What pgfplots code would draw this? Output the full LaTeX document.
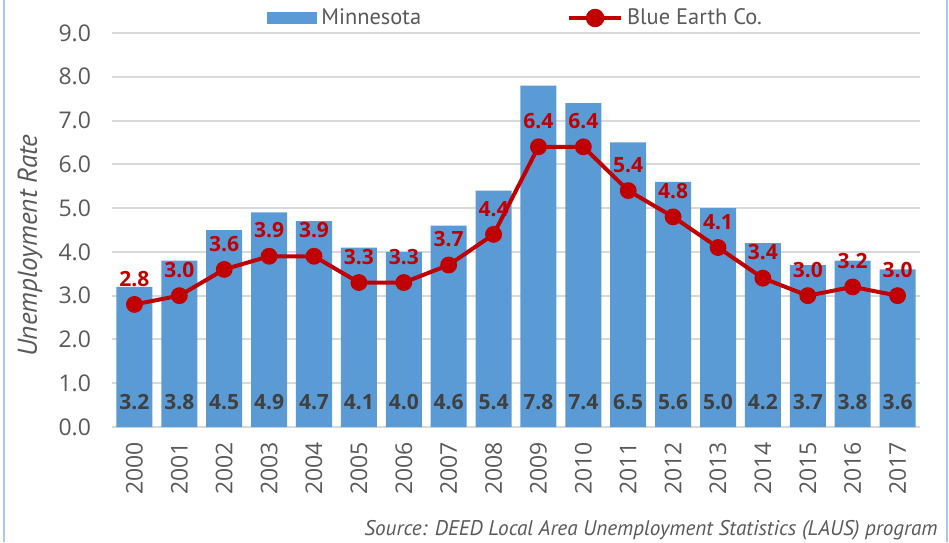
\documentclass[border=0pt]{standalone}
\usepackage{fontspec}
\setmainfont{Open Sans}
\newfontfamily\ptsans{PT Sans}
\usepackage{pgfplots}
\pgfplotsset{compat=1.18}
\usepackage{pgfplotstable}
\definecolor{barblue}{HTML}{5B9BD5}
\definecolor{linered}{HTML}{C00000}
\definecolor{txtgray}{HTML}{595959}
\definecolor{lblgray}{HTML}{404040}
\definecolor{gridgray}{HTML}{D9D9D9}
\definecolor{framec}{HTML}{A9C8EA}
\pgfplotstableread{
x year mn be
0 2000 3.2 2.8
1 2001 3.8 3.0
2 2002 4.5 3.6
3 2003 4.9 3.9
4 2004 4.7 3.9
5 2005 4.1 3.3
6 2006 4.0 3.3
7 2007 4.6 3.7
8 2008 5.4 4.4
9 2009 7.8 6.4
10 2010 7.4 6.4
11 2011 6.5 5.4
12 2012 5.6 4.8
13 2013 5.0 4.1
14 2014 4.2 3.4
15 2015 3.7 3.0
16 2016 3.8 3.2
17 2017 3.6 3.0
}\datatable
\begin{document}
\begin{tikzpicture}
\useasboundingbox (0,0) rectangle (474.5pt,271pt);
\draw[framec, line width=1pt] (1.8pt,0) -- (1.8pt,271pt);
\draw[framec, line width=1pt] (473.6pt,0) -- (473.6pt,271pt);
\begin{axis}[
  at={(56pt,57.5pt)}, anchor=south west,
  scale only axis, width=404pt, height=197pt,
  xmin=-0.5, xmax=17.5, ymin=0, ymax=9,
  ytick={0,1,...,9},
  xtick={0,1,...,17},
  xticklabels={2000,2001,2002,2003,2004,2005,2006,2007,2008,2009,2010,2011,2012,2013,2014,2015,2016,2017},
  xticklabel style={rotate=90, anchor=east, font=\fontsize{11.5}{13}\selectfont, text=txtgray, xshift=-4pt},
  yticklabel style={font=\fontsize{11.5}{13}\selectfont, text=txtgray, xshift=-7pt},
  /pgf/number format/assume math mode=true,
  yticklabel={\pgfmathprintnumber[fixed,fixed zerofill,precision=1]{\tick}},
  major tick length=0pt,
  axis line style={draw=none},
  ymajorgrids, grid style={gridgray, line width=1pt},
  ylabel={\textit{Unemployment Rate}},
  ylabel style={at={(axis description cs:-0.1015,0.46)}, anchor=center, font=\ptsans\fontsize{13.6}{15}\selectfont, text=txtgray},
  legend columns=2,
  legend style={draw=none, fill=none, at={(axis description cs:0.1918,1)}, anchor=west, yshift=7.5pt,
    font=\ptsans\fontsize{11.2}{13}\selectfont, text=txtgray,
    /tikz/every even column/.append style={column sep=71pt},
    /tikz/every odd column/.append style={column sep=0pt},
    cells={anchor=west}, inner sep=0pt},
  clip=false,
]
\addplot[ybar, bar width=18pt, fill=barblue, draw=none,
  legend image code/.code={\fill[barblue] (0pt,-3pt) rectangle (25pt,3pt);}]
  table[x=x, y=mn] {\datatable};
\addlegendentry{Minnesota}
\addplot[linered, line width=2pt, mark=*, mark size=3.2pt, mark options={fill=linered, draw=linered},
  legend image code/.code={\draw[linered, line width=2pt] (0pt,0pt) -- (26pt,0pt); \fill[linered] (13pt,0pt) circle (3.6pt);},
  nodes near coords={\pgfmathprintnumber[fixed,fixed zerofill,precision=1]{\pgfplotspointmeta}},
  point meta=explicit,
  every node near coord/.append style={font=\fontsize{10.5}{12}\bfseries, text=linered, anchor=south, inner sep=0pt, yshift=8pt}]
  table[x=x, y=be, meta=be] {\datatable};
\addlegendentry{Blue Earth Co.}
\addplot[forget plot, only marks, mark=none,
  nodes near coords={\pgfmathprintnumber[fixed,fixed zerofill,precision=1]{\pgfplotspointmeta}},
  point meta=explicit,
  every node near coord/.append style={font=\fontsize{10.5}{12}\bfseries, text=lblgray, anchor=center, inner sep=0pt}]
  table[x=x, y expr=0.57, meta=mn] {\datatable};
\end{axis}
\node[anchor=base east, font=\ptsans\fontsize{10.6}{12}\itshape, text=txtgray, inner sep=0pt] at (469pt,3.5pt) {Source: DEED Local Area Unemployment Statistics (LAUS) program};
\end{tikzpicture}
\end{document}
